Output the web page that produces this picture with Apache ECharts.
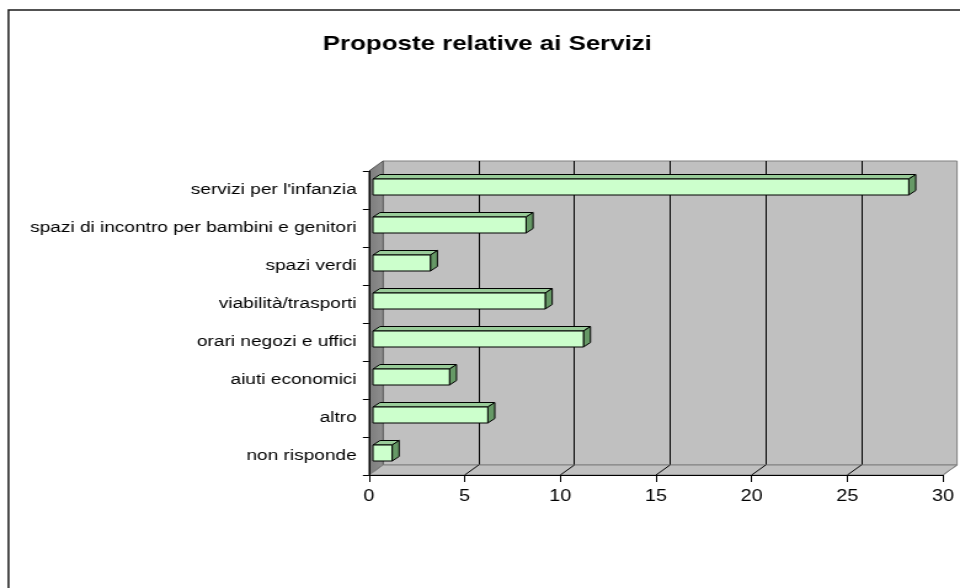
<!DOCTYPE html>
<html>
<head>
<meta charset="utf-8">
<script src="https://cdn.jsdelivr.net/npm/echarts@6/dist/echarts.min.js"></script>
<style>
  html, body { margin: 0; padding: 0; background: #fff; overflow: hidden; }
  /* chart is drawn on a narrower canvas and widened to the page width */
  #chart { width: 780px; height: 588px; transform: scaleX(1.230769); transform-origin: 0 0; }
</style>
</head>
<body>
<div id="chart"></div>
<script>
// --- data ---
const titleText = 'Proposte relative ai Servizi';
const categories = [
  "servizi per l'infanzia",
  'spazi di incontro per bambini e genitori',
  'spazi verdi',
  'viabilità/trasporti',
  'orari negozi e uffici',
  'aiuti economici',
  'altro',
  'non risponde'
];
const values = [28, 8, 3, 9, 11, 4, 6, 1];
const xTicks = [0, 5, 10, 15, 20, 25, 30];

// --- layout / style ---
const FONT = 'Liberation Sans, Arial, sans-serif';
const plot = { left: 299.8, right: 13.8, top: 171, bottom: 113 };
const depth = { dx: 11.4, dy: -10 };         // wall depth of the 3D box
const barShift = { dx: 3.25, dy: -3 };       // bar front face set back into the box
const barDepth = { dx: 5.7, dy: -4.5 };      // thickness of each bar
const barFaceH = 16;

const chart = echarts.init(document.getElementById('chart'), null, { renderer: 'canvas' });

function renderWalls(params, api) {
  const cs = params.coordSys;
  const x = cs.x, y = cs.y, w = cs.width, h = cs.height;
  const b = y + h;
  const children = [
    { // left side wall
      type: 'polygon',
      shape: { points: [[x, y], [x + depth.dx, y + depth.dy], [x + depth.dx, b + depth.dy], [x, b]] },
      style: {
        fill: new echarts.graphic.LinearGradient(0, 0, 1, 0, [
          { offset: 0, color: '#7c7c7c' }, { offset: 0.75, color: '#8a8a8a' }, { offset: 1, color: '#9a9a9a' }
        ]),
        stroke: '#555', lineWidth: 1
      }
    },
    { // floor
      type: 'polygon',
      shape: { points: [[x, b], [x + w, b], [x + w + depth.dx, b + depth.dy], [x + depth.dx, b + depth.dy]] },
      style: { fill: '#c0c0c0', stroke: '#808080', lineWidth: 1 }
    }
  ];
  xTicks.forEach(function (t, k) {
    const px = api.coord([t, 0])[0];
    const inner = k > 0 && k < xTicks.length - 1;
    children.push({
      type: 'line',
      shape: { x1: px, y1: b, x2: px + depth.dx, y2: b + depth.dy },
      style: { stroke: inner ? '#000' : '#808080', lineWidth: 1 }
    });
  });
  return { type: 'group', children: children };
}

function renderBar(params, api) {
  const v = api.value(0), i = api.value(1);
  const p0 = api.coord([0, i]);
  const p1 = api.coord([v, i]);
  const x0 = p0[0] + barShift.dx;
  const x1 = p1[0] + barShift.dx;
  const yc = p0[1] + barShift.dy;
  const yt = yc - barFaceH / 2, yb = yc + barFaceH / 2;
  const dx = barDepth.dx, dy = barDepth.dy;
  const line = { stroke: '#000', lineWidth: 1 };
  return {
    type: 'group',
    children: [
      { type: 'polygon', shape: { points: [[x0, yt], [x1, yt], [x1 + dx, yt + dy], [x0 + dx, yt + dy]] },
        style: Object.assign({ fill: '#99cc99' }, line) },
      { type: 'polygon', shape: { points: [[x1, yt], [x1 + dx, yt + dy], [x1 + dx, yb + dy], [x1, yb]] },
        style: Object.assign({ fill: '#669966' }, line) },
      { type: 'polygon', shape: { points: [[x0, yt], [x1, yt], [x1, yb], [x0, yb]] },
        style: Object.assign({ fill: '#ccffcc' }, line) }
    ]
  };
}

const option = {
  animation: false,
  backgroundColor: '#ffffff',
  textStyle: { fontFamily: FONT },
  graphic: [
    { type: 'rect', z: 0, silent: true,
      shape: { x: 6.9, y: 10, width: 2000, height: 2000 },
      style: { fill: 'none', stroke: '#1a1a1a', lineWidth: 1.5 } },
    { type: 'text', z: 10, x: 396, y: 44.5,
      style: { text: titleText, font: 'bold 21px ' + FONT, fill: '#000', align: 'center', verticalAlign: 'middle' } }
  ],
  grid: [
    { left: plot.left, right: plot.right, top: plot.top, bottom: plot.bottom },
    { left: plot.left + depth.dx, right: plot.right - depth.dx, top: plot.top + depth.dy, bottom: plot.bottom - depth.dy,
      show: true, backgroundColor: '#c0c0c0', borderColor: '#808080', borderWidth: 1 }
  ],
  xAxis: [
    { gridIndex: 0, type: 'value', min: xTicks[0], max: xTicks[xTicks.length - 1], interval: xTicks[1] - xTicks[0], z: 5,
      axisLine: { show: true, lineStyle: { color: '#000', width: 1 } },
      axisTick: { show: true, length: 7, lineStyle: { color: '#000' } },
      axisLabel: { color: '#000', fontSize: 16, fontFamily: FONT, margin: 14 },
      splitLine: { show: false } },
    { gridIndex: 1, type: 'value', min: xTicks[0], max: xTicks[xTicks.length - 1], interval: xTicks[1] - xTicks[0],
      axisLine: { show: false }, axisTick: { show: false }, axisLabel: { show: false },
      splitLine: { show: true, showMinLine: false, showMaxLine: false, lineStyle: { color: '#000', width: 1 } } }
  ],
  yAxis: [
    { gridIndex: 0, type: 'category', data: categories, inverse: true, z: 5,
      axisLine: { show: true, lineStyle: { color: '#000', width: 1 } },
      axisTick: { show: true, length: 5, lineStyle: { color: '#000' } },
      axisLabel: { color: '#000', fontSize: 15.5, fontFamily: FONT, margin: 10, interval: 0 } },
    { gridIndex: 1, type: 'category', data: categories, inverse: true, show: false }
  ],
  series: [
    { type: 'custom', name: 'walls', xAxisIndex: 0, yAxisIndex: 0, z: 1, silent: true,
      data: [[0, 0]], renderItem: renderWalls },
    { type: 'custom', name: 'Proposte', xAxisIndex: 0, yAxisIndex: 0, z: 3,
      encode: { x: 0, y: 1 },
      data: values.map(function (v, i) { return [v, i]; }),
      renderItem: renderBar }
  ]
};

chart.setOption(option);
</script>
</body>
</html>
